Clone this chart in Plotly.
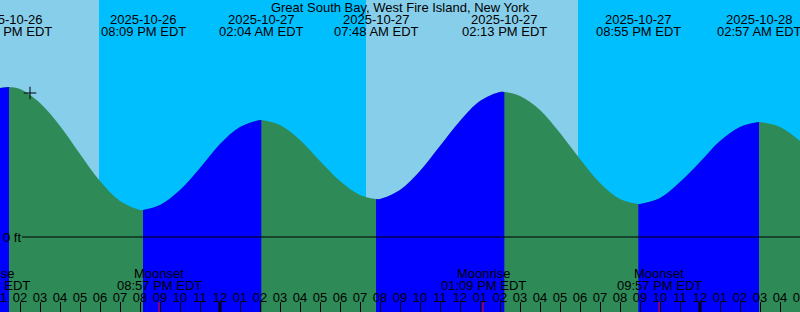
import pandas as pd
import plotly.graph_objects as go

# ---------------- data ----------------
station = "Great South Bay, West Fire Island, New York"
axis_start = "2025-10-26 13:00"
axis_end = "2025-10-28 05:00"
y_range = [-0.75, 2.37]

curve_times = [
    "2025-10-26 13:00", "2025-10-26 13:27", "2025-10-26 14:00", "2025-10-26 15:00",
    "2025-10-26 16:00", "2025-10-26 17:00", "2025-10-26 18:00", "2025-10-26 19:00",
    "2025-10-26 20:00", "2025-10-26 20:09", "2025-10-26 21:00", "2025-10-26 22:00",
    "2025-10-26 23:00", "2025-10-27 00:00", "2025-10-27 01:00", "2025-10-27 02:00",
    "2025-10-27 02:04", "2025-10-27 03:00", "2025-10-27 04:00", "2025-10-27 05:00",
    "2025-10-27 06:00", "2025-10-27 07:00", "2025-10-27 07:48", "2025-10-27 08:00",
    "2025-10-27 09:00", "2025-10-27 10:00", "2025-10-27 11:00", "2025-10-27 12:00",
    "2025-10-27 13:00", "2025-10-27 14:00", "2025-10-27 14:13", "2025-10-27 15:00",
    "2025-10-27 16:00", "2025-10-27 17:00", "2025-10-27 18:00", "2025-10-27 19:00",
    "2025-10-27 20:00", "2025-10-27 20:55", "2025-10-27 21:00", "2025-10-27 22:00",
    "2025-10-27 23:00", "2025-10-28 00:00", "2025-10-28 01:00", "2025-10-28 02:00",
    "2025-10-28 02:57", "2025-10-28 03:00", "2025-10-28 04:00", "2025-10-28 05:00",
]
curve_heights = [
    1.49, 1.50, 1.48, 1.34,
    1.11, 0.83, 0.56, 0.36,
    0.27, 0.27, 0.32, 0.47,
    0.69, 0.93, 1.10, 1.17,
    1.17, 1.12, 0.97, 0.76,
    0.56, 0.42, 0.38, 0.38,
    0.47, 0.66, 0.91, 1.16,
    1.36, 1.45, 1.45, 1.41,
    1.27, 1.04, 0.78, 0.54,
    0.38, 0.33, 0.33, 0.39,
    0.55, 0.75, 0.96, 1.10,
    1.15, 1.15, 1.10, 0.96,
]

extreme_times = ["2025-10-26 13:27", "2025-10-26 20:09", "2025-10-27 02:04",
                 "2025-10-27 07:48", "2025-10-27 14:13", "2025-10-27 20:55",
                 "2025-10-28 02:57"]

day_starts = ["2025-10-26 13:00", "2025-10-27 07:18"]   # sunrise (or window start)
day_ends = ["2025-10-26 17:57", "2025-10-27 17:54"]     # sunset

moon_times = ["2025-10-26 12:22", "2025-10-26 20:57", "2025-10-27 13:09", "2025-10-27 21:57"]
moon_events = ["Moonrise", "Moonset", "Moonrise", "Moonset"]

midnights = ["2025-10-27 00:00", "2025-10-28 00:00"]

now_time = "2025-10-26 14:30"
now_height = 1.44

# ---------------- styles ----------------
DAY = "#87CEEB"
NIGHT = "#00BFFF"
FALL = "#2E8B57"
RISE = "#0000FF"
FONT = dict(family="Liberation Sans, Arial, sans-serif", size=13, color="black")

t0 = pd.Timestamp(axis_start)
t1 = pd.Timestamp(axis_end)


def frac(t):
    return (pd.Timestamp(t) - t0) / (t1 - t0)


def fmt_time(t):
    return pd.Timestamp(t).strftime("%I:%M %p EDT")


fig = go.Figure()

# full area under the curve (falling colour)
fig.add_trace(go.Scatter(x=curve_times, y=[y_range[0]] * len(curve_times), mode="lines",
                         line=dict(width=0), hoverinfo="skip", showlegend=False))
fig.add_trace(go.Scatter(x=curve_times, y=curve_heights, mode="lines", fill="tonexty",
                         fillcolor=FALL, line=dict(width=0, shape="spline"),
                         hoverinfo="skip", showlegend=False))

# rising segments in blue
ext_idx = [curve_times.index(t) for t in extreme_times]
bounds = [0] + ext_idx + [len(curve_times) - 1]
for a, b in zip(bounds[:-1], bounds[1:]):
    if b <= a:
        continue
    if curve_heights[b] > curve_heights[a]:
        xs = curve_times[a:b + 1]
        ys = curve_heights[a:b + 1]
        fig.add_trace(go.Scatter(x=xs, y=[y_range[0]] * len(xs), mode="lines",
                                 line=dict(width=0), hoverinfo="skip", showlegend=False))
        fig.add_trace(go.Scatter(x=xs, y=ys, mode="lines", fill="tonexty",
                                 fillcolor=RISE, line=dict(width=0, shape="spline"),
                                 hoverinfo="skip", showlegend=False))

# current-time marker
fig.add_trace(go.Scatter(x=[now_time], y=[now_height], mode="markers",
                         marker=dict(symbol="cross-thin", size=9,
                                     line=dict(width=1, color="black")),
                         hoverinfo="skip", showlegend=False))

shapes = []
for s, e in zip(day_starts, day_ends):
    shapes.append(dict(type="rect", xref="x", yref="paper", x0=s, x1=e, y0=0, y1=1,
                       fillcolor=DAY, line=dict(width=0), layer="below"))
# zero line
shapes.append(dict(type="line", xref="paper", yref="y", x0=22 / 800, x1=1, y0=0, y1=0,
                   line=dict(color="black", width=1.2)))
# midnight ticks
for m in midnights:
    shapes.append(dict(type="line", xref="x", yref="paper", x0=m, x1=m, y0=0, y1=10 / 312,
                       line=dict(color="black", width=3)))
# moon ticks
for m in moon_times:
    shapes.append(dict(type="line", xref="x", yref="paper", x0=m, x1=m, y0=0, y1=10 / 312,
                       line=dict(color="red", width=1)))

annotations = []
for t in extreme_times:
    annotations.append(dict(x=frac(t), xref="paper", y=1 - 19.5 / 312, yref="paper",
                            text=t[:10], showarrow=False, font=FONT,
                            xanchor="center", yanchor="middle"))
    annotations.append(dict(x=frac(t), xref="paper", y=1 - 32 / 312, yref="paper",
                            text=fmt_time(t), showarrow=False, font=FONT,
                            xanchor="center", yanchor="middle"))
for t, ev in zip(moon_times, moon_events):
    annotations.append(dict(x=frac(t), xref="paper", y=1 - 273.5 / 312, yref="paper",
                            text=ev, showarrow=False, font=FONT,
                            xanchor="center", yanchor="middle"))
    annotations.append(dict(x=frac(t), xref="paper", y=1 - 285.5 / 312, yref="paper",
                            text=fmt_time(t), showarrow=False, font=FONT,
                            xanchor="center", yanchor="middle"))
annotations.append(dict(x=0, xref="paper", y=0, yref="y", text="0 ft", showarrow=False,
                        font=FONT, xanchor="left", yanchor="middle", xshift=1))

fig.update_layout(
    width=800, height=312,
    margin=dict(l=0, r=0, t=0, b=0, autoexpand=False),
    paper_bgcolor=NIGHT, plot_bgcolor=NIGHT,
    title=dict(text=station, x=0.5, xanchor="center", xref="paper",
               y=1 - 7.5 / 312, yanchor="middle", yref="container", font=FONT),
    shapes=shapes, annotations=annotations,
    showlegend=False,
    xaxis=dict(type="date", range=[axis_start, axis_end], dtick=3600000,
               tick0="2025-10-26 00:00", tickformat="%I",
               ticks="inside", ticklen=10, tickwidth=1, tickcolor="black",
               ticklabelposition="inside", ticklabeloverflow="allow",
               ticklabelstandoff=-3,
               tickfont=FONT, showgrid=False, zeroline=False, showline=False,
               automargin=False, fixedrange=True),
    yaxis=dict(range=y_range, visible=False, fixedrange=True, automargin=False),
)

fig.write_html("out.html")
